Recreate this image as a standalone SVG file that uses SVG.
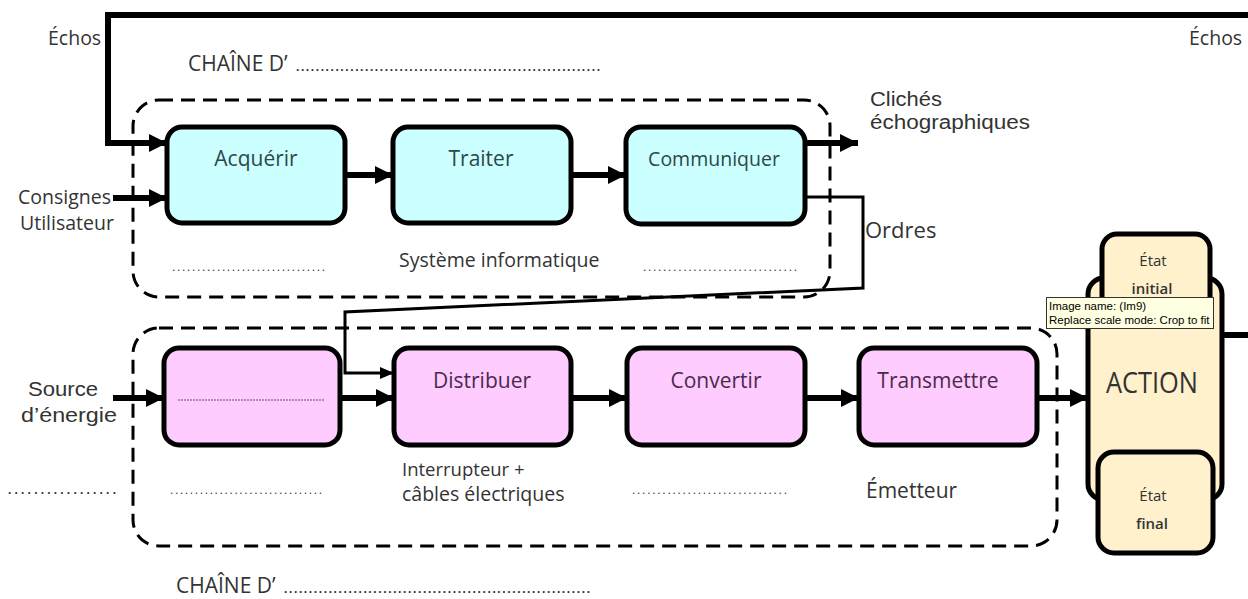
<svg xmlns="http://www.w3.org/2000/svg" width="1248" height="599" viewBox="0 0 1248 599">
<defs>
<style>
.t{font-family:"Open Sans","Liberation Sans",sans-serif;font-size:19.5px;fill:#333}
.t2{font-family:"Liberation Sans",Arial,sans-serif;font-size:20px;fill:#333}
.lbl{font-family:"Open Sans","Liberation Sans",sans-serif;font-size:21px;text-anchor:middle}
.st{font-family:"Open Sans","Liberation Sans",sans-serif;font-size:15px;text-anchor:middle;fill:#333}
.cy{fill:#ccffff;stroke:#000;stroke-width:5}
.pk{fill:#ffccff;stroke:#000;stroke-width:5}
.ac{fill:#fff1cc;stroke:#000;stroke-width:5}
.dash{fill:none;stroke:#000;stroke-width:3;stroke-dasharray:14 8}
.th{fill:none;stroke:#000;stroke-width:6}
.tn{fill:none;stroke:#000;stroke-width:3}
.dots{font-family:"Liberation Sans",sans-serif;font-size:12px;fill:#333}
</style>
<marker id="ah" markerUnits="userSpaceOnUse" markerWidth="18" markerHeight="18" refX="18" refY="9" orient="auto">
<path d="M0,0 L18,9 L0,18 z" fill="#000"/>
</marker>
<marker id="ahs" markerUnits="userSpaceOnUse" markerWidth="14" markerHeight="12" refX="14" refY="6" orient="auto">
<path d="M0,0 L14,6 L0,12 z" fill="#000"/>
</marker>
</defs>
<rect width="1248" height="599" fill="#fff"/>

<g id="frames">
<rect class="dash" x="133" y="100" width="697" height="197" rx="26"/>
<rect class="dash" x="133" y="328" width="924" height="218" rx="26"/>
</g>

<g id="connectors">
<polyline class="th" points="1248,15 108,15 108,143 167,143" marker-end="url(#ah)"/>
<line class="th" x1="113" y1="198" x2="167" y2="198" marker-end="url(#ah)"/>
<line class="th" x1="345" y1="175" x2="393" y2="175" marker-end="url(#ah)"/>
<line class="th" x1="572" y1="175" x2="626" y2="175" marker-end="url(#ah)"/>
<line class="th" x1="807" y1="143" x2="858" y2="143" marker-end="url(#ah)"/>
<polyline class="tn" points="807,197 863,197 863,288 345,312 345,373 394,373" marker-end="url(#ahs)"/>
<line class="th" x1="113" y1="398" x2="164" y2="398" marker-end="url(#ah)"/>
<line class="th" x1="342" y1="398" x2="394" y2="398" marker-end="url(#ah)"/>
<line class="th" x1="572" y1="398" x2="627" y2="398" marker-end="url(#ah)"/>
<line class="th" x1="805" y1="398" x2="859" y2="398" marker-end="url(#ah)"/>
<line class="th" x1="1037" y1="398" x2="1088" y2="398" marker-end="url(#ah)"/>
<line class="th" x1="1222" y1="335" x2="1248" y2="335"/>
</g>

<g id="acquerir"><rect class="cy" x="167" y="127" width="178" height="96" rx="15"/><text class="lbl" x="256" y="166" fill="#2d4848">Acquérir</text></g>
<g id="traiter"><rect class="cy" x="393" y="127" width="178" height="96" rx="15"/><text class="lbl" x="481" y="166" fill="#2d4848">Traiter</text></g>
<g id="communiquer"><rect class="cy" x="626" y="127" width="179" height="97" rx="15"/><text class="lbl" x="714" y="166" fill="#2d4848" style="font-size:19.5px">Communiquer</text></g>

<g id="box-alimenter"><rect class="pk" x="164" y="348" width="176" height="97" rx="15"/><line x1="178" y1="400" x2="324" y2="400" stroke="#555" stroke-width="1" stroke-dasharray="2 1"/></g>
<g id="distribuer"><rect class="pk" x="394" y="348" width="177" height="97" rx="15"/><text class="lbl" x="482" y="388" fill="#4a2a4a">Distribuer</text></g>
<g id="convertir"><rect class="pk" x="627" y="348" width="178" height="97" rx="15"/><text class="lbl" x="716" y="388" fill="#4a2a4a">Convertir</text></g>
<g id="transmettre"><rect class="pk" x="859" y="348" width="178" height="97" rx="15"/><text class="lbl" x="938" y="388" fill="#4a2a4a">Transmettre</text></g>

<g id="action">
<rect class="ac" x="1088" y="278" width="134" height="222" rx="16"/>
<rect class="ac" x="1102" y="234" width="108" height="82" rx="15"/>
<rect class="ac" x="1098" y="452" width="115" height="101" rx="16"/>
<rect x="1092" y="300" width="126" height="28" fill="#fff1cc"/>
<text class="st" x="1153" y="266">État</text>
<text class="st" x="1152" y="294" style="font-weight:600">initial</text>
<text class="st" x="1152" y="393" style="font-size:29px" textLength="92" lengthAdjust="spacingAndGlyphs">ACTION</text>
<text class="st" x="1153" y="501">État</text>
<text class="st" x="1152" y="529" style="font-weight:600">final</text>
</g>

<g id="tooltip">
<rect x="1046.5" y="297.5" width="167" height="31" fill="#ffffe1" stroke="#333" stroke-width="1"/>
<text x="1049" y="310" font-family="Liberation Sans,sans-serif" font-size="11.5" fill="#000">Image name: (Im9)</text>
<text x="1049" y="324" font-family="Liberation Sans,sans-serif" font-size="11.5" fill="#000">Replace scale mode: Crop to fit</text>
</g>

<g id="labels">
<text class="t" x="48" y="45">Échos</text>
<text class="t" x="1189" y="45">Échos</text>
<text class="t" x="188" y="71" style="font-size:21px">CHAÎNE D’</text>
<text class="dots" x="296" y="71" textLength="304" lengthAdjust="spacing" font-weight="bold">..............................................................</text>
<text class="t2" x="870" y="106" textLength="72" lengthAdjust="spacingAndGlyphs">Clichés</text>
<text class="t2" x="870" y="129" textLength="160" lengthAdjust="spacingAndGlyphs">échographiques</text>
<text class="t" x="18" y="204">Consignes</text>
<text class="t" x="20" y="230">Utilisateur</text>
<text class="t" x="865" y="238" style="font-size:22px">Ordres</text>
<text class="dots" x="172" y="271" textLength="153" lengthAdjust="spacing">...............................</text>
<text class="t" x="399" y="267">Système informatique</text>
<text class="dots" x="643" y="271" textLength="154" lengthAdjust="spacing">...............................</text>
<text class="t2" x="28" y="396" style="font-size:21px" textLength="70" lengthAdjust="spacingAndGlyphs">Source</text>
<text class="t2" x="21" y="422" style="font-size:21px" textLength="96" lengthAdjust="spacingAndGlyphs">d’énergie</text>
<text class="dots" x="8" y="494" textLength="108" lengthAdjust="spacing" font-weight="bold">.................</text>
<text class="dots" x="170" y="494" textLength="152" lengthAdjust="spacing">...............................</text>
<text class="t" x="402" y="476" style="font-size:18.5px">Interrupteur +</text>
<text class="t" x="402" y="501">câbles électriques</text>
<text class="dots" x="632" y="494" textLength="155" lengthAdjust="spacing">...............................</text>
<text class="t" x="866" y="498" style="font-size:21px">Émetteur</text>
<text class="t" x="176" y="593" style="font-size:21px">CHAÎNE D’</text>
<text class="dots" x="284" y="593" textLength="306" lengthAdjust="spacing" font-weight="bold">..............................................................</text>
</g>
</svg>
